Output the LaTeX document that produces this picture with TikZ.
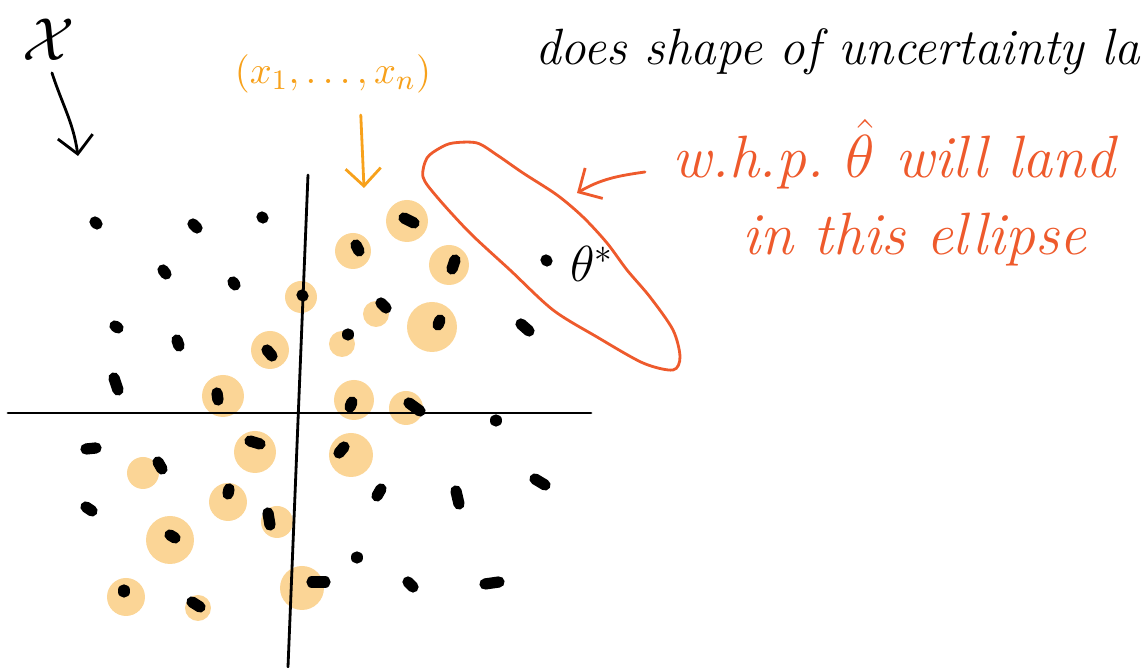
\documentclass[tikz,border=0pt]{standalone}
\usetikzlibrary{arrows.meta}
\definecolor{penorange}{HTML}{F7A11B}
\definecolor{penred}{HTML}{EE5A2C}
\definecolor{halofill}{HTML}{FBD596}
\begin{document}
\begin{tikzpicture}[x=0.01cm,y=-0.01cm,
    inkline/.style={line width=0.8pt,line cap=round},
    barb/.style={-{Straight Barb[length=5pt,width=10pt]}},
    blob/.style={line width=3.2pt,line cap=round},
    halo/.style={fill=halofill},
    hand/.style={font=\fontsize{#1}{#1}\selectfont\itshape,inner sep=1pt}]
  \useasboundingbox (0,0) rectangle (1144,668);
  % halos round the sample
  \foreach \cx/\cy/\r in {407/221/21,353/251/18,449/265/20,301/297/16,376/314/13,432/327/25,
      342/344/13,270/350/19,223/396/21,354/400/20,406/408/17,255/452/21,351/455/22,143/473/16,
      228/502/19,277/522/16,170/540/24,126/597/19,198/608/13,302/588/22}
    \fill[halo] (\cx,\cy) circle (\r);
  % axes
  \draw[inkline] (8,413) -- (591,413);
  \draw[inkline] (308,175) -- (288,667);
  % points of X
  \foreach \a/\b/\c/\d in {95/222/97/224,193/224/197/228,262/217/263/218,163/270/166/274,
      233/282/235/285,115/326/118/328,177/340/179/346,114/378/118/390,86/449/96/448,
      158/462/162/469,86/507/92/511,404/218/414/223,356/245/359/251,455/260/452/269,
      302/295/303/296,381/303/386/308,440/320/438/325,348/334/348/335,267/350/272/356,
      217/393/218/400,352/402/350/407,409/403/420/411,250/441/260/444,344/447/339/453,
      229/489/228/494,268/513/270/525,170/535/175/538,124/590/124/592,192/602/200/607,
      312/582/325/582,521/324/529/331,496/420/496/421,546/260/547/261,377/496/381/489,
      456/491/459/504,535/479/545/485,357/557/357/558,408/582/413/587,485/584/499/582}
    \draw[blob] (\a,\b) -- (\c,\d);
  % labels and arrows
  \node[hand=18] (space) at (49,40) {$\mathcal{X}$};
  \coordinate (spacetip) at (78,156);
  \draw[inkline,barb] (space.south) ++(3,8) to[out=-72,in=98] (spacetip);
  \node[hand=11,text=penorange] (sample) at (333,74) {$(x_1,\dots,x_n)$};
  \coordinate (sampletip) at (364,188);
  \draw[inkline,barb,penorange,shorten <=5pt] ([xshift=0.27cm]sample.south) -- (sampletip);
  \node[hand=14.5,anchor=base west] (question) at (531,65) {does shape of uncertainty la};
  % confidence region
  \draw[inkline,penred] plot[smooth cycle] coordinates {(453,143) (477,143) (497,155)
      (523,173) (557,195) (583,217) (607,243) (627,270) (650,297) (673,330) (680,357)
      (673,370) (643,363) (597,337) (553,310) (510,270) (470,233) (437,197) (423,177)
      (427,158) (440,148)};
  \node[hand=14] (truth) at (592,264) {$\theta^*$};
  \node[hand=17,text=penred,anchor=base west] (claim) at (668,178) {w.h.p.\ $\hat\theta$ will land};
  \node[hand=17,text=penred,anchor=base west] (where) at (738,255) {in this ellipse};
  \coordinate (ellipsetip) at (577,193);
  \draw[inkline,barb,penred] ([shift={(-23,-6)}]claim.base west) to[out=188,in=30] (ellipsetip);
\end{tikzpicture}
\end{document}
